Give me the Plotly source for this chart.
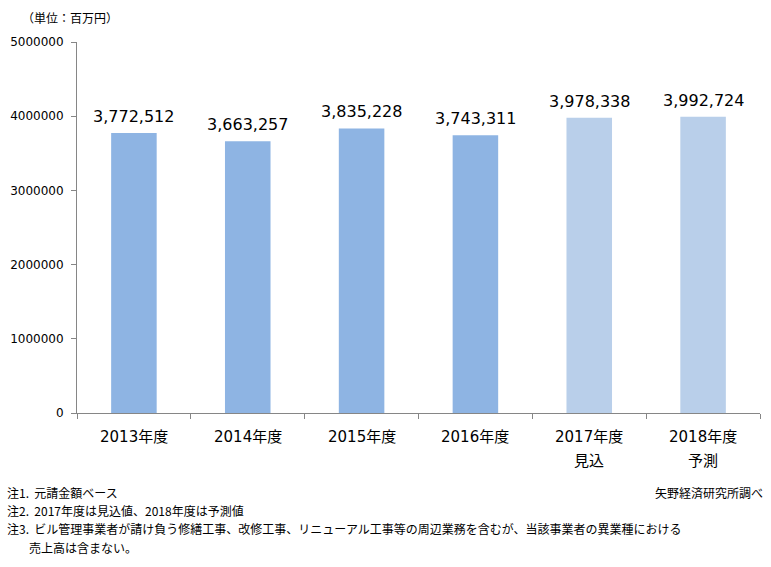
import plotly.graph_objects as go

categories = ["2013年度", "2014年度", "2015年度", "2016年度", "2017年度<br>見込", "2018年度<br>予測"]
values = [3772512, 3663257, 3835228, 3743311, 3978338, 3992724]
bar_colors = ["#8EB4E3", "#8EB4E3", "#8EB4E3", "#8EB4E3", "#B9CFEA", "#B9CFEA"]
y_ticks = [0, 1000000, 2000000, 3000000, 4000000, 5000000]

FONT = "DejaVu Sans, Noto Sans CJK JP, sans-serif"
JFONT = "Noto Sans CJK JP, sans-serif"

fig = go.Figure()
fig.add_trace(go.Bar(
    x=categories, y=values, marker=dict(color=bar_colors, line=dict(width=0)),
    width=0.4, showlegend=False, hoverinfo="skip",
))

for c, v in zip(categories, values):
    fig.add_annotation(x=c, y=v, text=f"{v:,}", showarrow=False, yanchor="bottom",
                       yshift=5, font=dict(size=16, color="#000000", family=FONT))

# category labels drawn as annotations for exact line spacing
for c in categories:
    for i, line in enumerate(c.split("<br>")):
        fig.add_annotation(x=c, xref="x", yref="paper", y=(413 - (437 + 24 * i)) / 371,
                           yanchor="middle", showarrow=False, text=line,
                           font=dict(size=15, color="#000000", family=FONT))

fig.update_layout(
    width=771, height=567,
    margin=dict(l=77, r=11, t=42, b=154, autoexpand=False),
    paper_bgcolor="white", plot_bgcolor="white",
    font=dict(family=FONT, color="#000000"),
    xaxis=dict(
        type="category", tickson="boundaries", ticks="outside", ticklen=5,
        tickcolor="#868686", showline=True, linecolor="#868686", linewidth=1,
        showgrid=False, showticklabels=False, automargin=False,
        range=[-0.5, 5.5],
    ),
    yaxis=dict(
        range=[0, 5000000], tickvals=y_ticks, ticktext=[str(t) for t in y_ticks],
        ticks="outside", ticklen=5, tickcolor="#868686", showline=True,
        linecolor="#868686", linewidth=1, showgrid=False, zeroline=False,
        tickfont=dict(size=12, family=FONT), ticklabelstandoff=5, automargin=False,
    ),
)

fig.add_annotation(xref="paper", yref="paper", x=-77/683 + 20/683, y=1 + 24/371,
                   xanchor="left", yanchor="middle", showarrow=False,
                   text="（単位：百万円）", font=dict(size=12, family=JFONT))

notes = [
    (492, 5, "注1.  元請金額ベース"),
    (510, 5, "注2.  2017年度は見込値、2018年度は予測値"),
    (528, 5, "注3.  ビル管理事業者が請け負う修繕工事、改修工事、リニューアル工事等の周辺業務を含むが、当該事業者の異業種における"),
    (547, 27, "売上高は含まない。"),
]
for py, px, t in notes:
    fig.add_annotation(xref="paper", yref="paper", x=(px - 77) / 683, y=(413 - py) / 371,
                       xanchor="left", yanchor="middle", showarrow=False,
                       text=t, font=dict(size=12, family=JFONT))
fig.add_annotation(xref="paper", yref="paper", x=(765 - 77) / 683, y=(413 - 492) / 371,
                   xanchor="right", yanchor="middle", showarrow=False,
                   text="矢野経済研究所調べ", font=dict(size=12, family=JFONT))

fig.write_html("out.html")
